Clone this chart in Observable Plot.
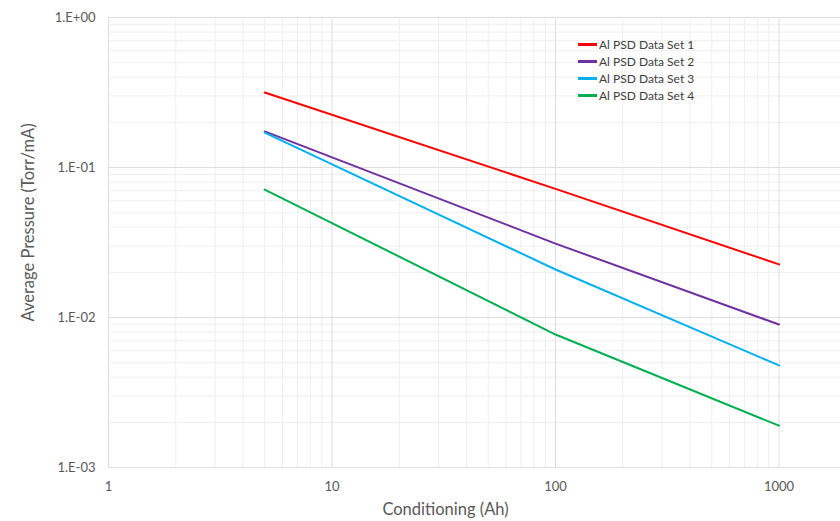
<!DOCTYPE html>
<html>
<head>
<meta charset="utf-8">
<script src="https://cdn.jsdelivr.net/npm/d3@7"></script>
<script src="https://cdn.jsdelivr.net/npm/@observablehq/plot@0.6"></script>
<style>
  html, body { margin: 0; padding: 0; background: #fff; }
  #wrap { position: relative; width: 840px; height: 521px; font-family: Lato, "Open Sans", sans-serif; }
  #legend { position: absolute; left: 578px; top: 36px; font-size: 12px; color: #404040; line-height: 17px; }
  #legend .row { display: flex; align-items: center; white-space: nowrap; }
  #legend .sw { width: 19px; height: 2.5px; margin-right: 2px; }
</style>
</head>
<body>
<div id="wrap"><div id="legend"></div></div>
<script>
const seriesNames = ["Al PSD Data Set 1", "Al PSD Data Set 2", "Al PSD Data Set 3", "Al PSD Data Set 4"];
const seriesColors = ["#ff0000", "#7030a0", "#00b0f0", "#00b050"];
const conditioning = [5, 100, 1000];
const set1 = [0.316, 0.072, 0.0226];
const set2 = [0.174, 0.0311, 0.00898];
const set3 = [0.171, 0.0209, 0.00479];
const set4 = [0.0713, 0.0077, 0.0019];
const xTicks = [1, 10, 100, 1000];
const yTicks = [0.001, 0.01, 0.1, 1];
const xTitle = "Conditioning (Ah)";
const yTitle = "Average Pressure (Torr/mA)";

const allSets = [set1, set2, set3, set4];
const data = [];
allSets.forEach((vals, i) => vals.forEach((v, j) => data.push({series: seriesNames[i], x: conditioning[j], y: v})));

const xMinor = [];
[1, 10, 100].forEach(d => { for (let k = 2; k <= 9; k++) xMinor.push(d * k); });
const yMinor = [];
[0.001, 0.01, 0.1].forEach(d => { for (let k = 2; k <= 9; k++) yMinor.push(d * k); });

const fmtY = d => { const e = Math.round(Math.log10(d)); return "1.E" + (e >= 0 ? "+" : "-") + String(Math.abs(e)).padStart(2, "0"); };

const chart = Plot.plot({
  width: 840,
  height: 521,
  marginLeft: 108,
  marginTop: 17,
  marginBottom: 54,
  marginRight: 0,
  style: { fontFamily: "Lato, 'Open Sans', sans-serif", fontSize: "13px", color: "#595959", background: "#fff" },
  x: { type: "log", domain: [1, 1884] },
  y: { type: "log", domain: [0.001, 1] },
  color: { domain: seriesNames, range: seriesColors },
  marks: [
    Plot.ruleX(xMinor, { stroke: "#efefef", strokeWidth: 1 }),
    Plot.ruleY(yMinor, { stroke: "#efefef", strokeWidth: 1 }),
    Plot.ruleX(xTicks, { stroke: "#dedede", strokeWidth: 1 }),
    Plot.ruleY(yTicks, { stroke: "#dedede", strokeWidth: 1 }),
    Plot.axisX({ ticks: xTicks, tickFormat: d => String(d), tickSize: 0, tickPadding: 14, fontSize: 13, label: null }),
    Plot.axisY({ ticks: yTicks, tickFormat: fmtY, tickSize: 0, tickPadding: 13, fontSize: 13, label: null }),
    Plot.text([xTitle], { text: d => d, frameAnchor: "bottom", lineAnchor: "middle", dx: -29, dy: 42, fontSize: 16.5, fill: "#595959" }),
    Plot.text([yTitle], { text: d => d, frameAnchor: "left", textAnchor: "middle", lineAnchor: "middle", rotate: -90, dx: -80, dy: -20, fontSize: 16.5, fill: "#595959" }),
    Plot.line(data, { x: "x", y: "y", z: "series", stroke: "series", strokeWidth: 2 })
  ]
});
document.getElementById("wrap").prepend(chart);

const legend = document.getElementById("legend");
seriesNames.forEach((n, i) => {
  const row = document.createElement("div");
  row.className = "row";
  row.innerHTML = `<span class="sw" style="background:${seriesColors[i]}"></span><span>${n}</span>`;
  legend.appendChild(row);
});
</script>
</body>
</html>
